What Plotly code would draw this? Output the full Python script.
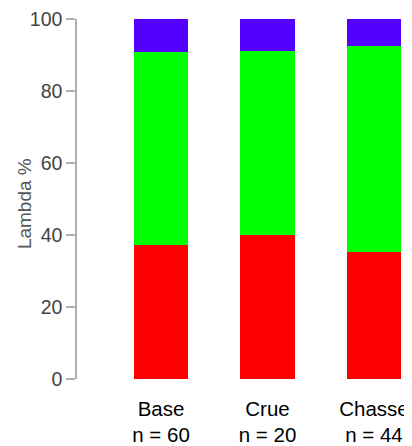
import plotly.graph_objects as go

categories = ["Base<br>n = 60", "Crue<br>n = 20", "Chasse<br>n = 44"]
red_vals = [37.3, 39.9, 35.2]
green_vals = [53.4, 51.3, 57.3]
blue_vals = [9.3, 8.8, 7.5]

colors = {"red": "#FF0000", "green": "#00FF00", "blue": "#5500FF"}

fig = go.Figure()
for name, vals in [("red", red_vals), ("green", green_vals), ("blue", blue_vals)]:
    fig.add_trace(go.Bar(x=categories, y=vals, name=name,
                         marker=dict(color=colors[name], line=dict(width=0)),
                         showlegend=False))

fig.add_annotation(text="Lambda %", xref="paper", yref="paper",
                   x=-0.158, y=0.486, xanchor="center", yanchor="middle",
                   textangle=-90, showarrow=False,
                   font=dict(size=19, color="#555555"))

fig.update_layout(
    barmode="stack",
    bargap=0.49,
    width=404, height=438,
    margin=dict(l=69, r=0, t=10, b=66),
    plot_bgcolor="white", paper_bgcolor="white",
    font=dict(family="Liberation Sans, Arial, sans-serif"),
    xaxis=dict(range=[-0.789, 2.357], showline=False, ticks="",
               showgrid=False, zeroline=False,
               tickfont=dict(size=20.5, color="black"),
               ticklabelstandoff=15),
    yaxis=dict(range=[0, 100], tickvals=[0, 20, 40, 60, 80, 100],
               showline=True, linecolor="#b0b0b0", linewidth=1.5,
               ticks="outside", ticklen=9, tickcolor="#b0b0b0", tickwidth=1.5,
               showgrid=False, zeroline=False, ticklabeloverflow="allow",
               tickfont=dict(size=19.5, color="#444444")),
)

fig.write_html("out.html")
